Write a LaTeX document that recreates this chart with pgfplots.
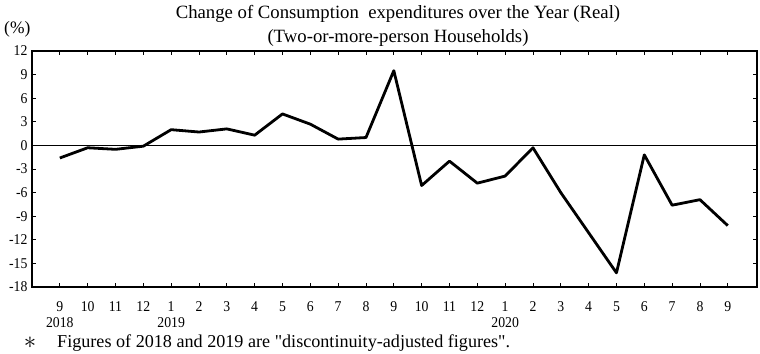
\documentclass[border=0pt]{standalone}
\usepackage{pgfplots}
\pgfplotsset{compat=1.18}
\usepackage{fontspec}
\setmainfont{Liberation Serif}
\newfontfamily\tickfont[FakeStretch=0.92]{Liberation Serif}
\begin{document}
\begin{tikzpicture}[x=1bp,y=1bp]
\useasboundingbox (0,0) rectangle (760,353);
\begin{axis}[
  at={(32bp,66bp)}, anchor=south west,
  scale only axis, width=725bp, height=236bp,
  xmin=-1, xmax=25.05, ymin=-18, ymax=12,
  axis line style={line width=1.2bp},
  tick align=inside, major tick length=4bp,
  tick style={black, line width=0.8bp},
  xtick={0,...,24},
  xticklabels={9\\2018,10,11,12,1\\2019,2,3,4,5,6,7,8,9,10,11,12,1\\2020,2,3,4,5,6,7,8,9},
  xticklabel style={align=center, font=\tickfont\fontsize{15}{16}\selectfont, yshift=-11bp},
  ytick={-18,-15,...,12},
  yticklabels={-18,-15,-12,-9,-6,-3,0,3,6,9,12},
  yticklabel style={font=\tickfont\fontsize{15}{15}\selectfont, xshift=-1bp},
  clip=false,
]
\draw[black, line width=0.8bp] (axis cs:-1,0) -- (axis cs:25.05,0);
\addplot[black, line width=2.8bp, line join=round] coordinates {
(0,-1.6) (1,-0.3) (2,-0.5) (3,-0.1) (4,2.0) (5,1.7) (6,2.1) (7,1.3) (8,4.0) (9,2.7) (10,0.8) (11,1.0) (12,9.5)
(13,-5.1) (14,-2.0) (15,-4.8) (16,-3.9) (17,-0.3) (18,-6.0) (19,-11.1) (20,-16.2) (21,-1.2) (22,-7.6) (23,-6.9) (24,-10.2)};
\end{axis}
\node[font=\fontsize{18.8}{23.5}\selectfont, align=center, anchor=north] at (398,351) {Change of Consumption\ \ expenditures over the Year (Real)\\(Two-or-more-person Households)};
\node[font=\fontsize{17.5}{18}\selectfont, anchor=west, inner sep=0pt] at (4,324) {(\%)};
\node[font=\fontsize{24}{24}\selectfont, anchor=center, inner sep=0pt] at (30,10) {$\ast$};
\node[font=\fontsize{18.2}{19}\selectfont, anchor=base west, inner sep=0pt] at (57,6) {Figures of 2018 and 2019 are \textquotedbl discontinuity-adjusted figures\textquotedbl.};
\end{tikzpicture}
\end{document}
